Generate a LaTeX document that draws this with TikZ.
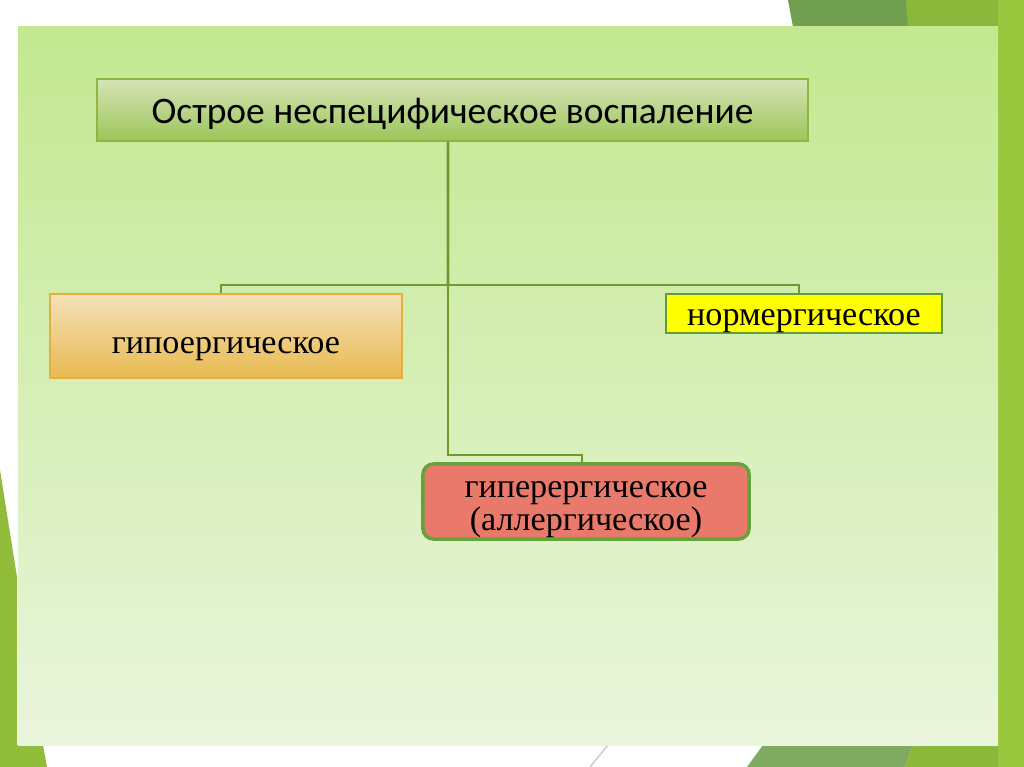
\documentclass[tikz,border=0pt]{standalone}
\usepackage{fontspec}
\setmainfont{Liberation Serif}
\newfontfamily\titlefont{Carlito}
\usetikzlibrary{positioning,calc}

\definecolor{panelTop}{HTML}{C3E890}
\definecolor{panelBot}{HTML}{E9F5DC}
\definecolor{bandGreen}{HTML}{98C63C}
\definecolor{darkGreen}{HTML}{70A04F}
\definecolor{oliveGreen}{HTML}{8BB83A}
\definecolor{lineGreen}{HTML}{6E9A2E}
\definecolor{titleTop}{HTML}{D6E4B6}
\definecolor{titleBot}{HTML}{9CC55A}
\definecolor{titleEdge}{HTML}{8DB83E}
\definecolor{hypoTop}{HTML}{F4E0BA}
\definecolor{hypoBot}{HTML}{E8BA50}
\definecolor{hypoEdge}{HTML}{E6AE3E}
\definecolor{normFill}{HTML}{FFFF00}
\definecolor{normEdge}{HTML}{5E9E3A}
\definecolor{hyperFill}{HTML}{E97A6B}
\definecolor{hyperEdge}{HTML}{66A23A}

\begin{document}
\begin{tikzpicture}[x=0.01cm, y=-0.01cm]
        \tikzstyle{conn}=[draw=lineGreen, line width=0.75pt]
        \tikzstyle{box}=[rectangle, inner sep=0pt, text depth=0pt,
                         font=\fontsize{9.7}{9.4}\selectfont]
        % page and slide frame
        \fill[white] (0,0) rectangle (1024,767);
        \useasboundingbox (0,0) rectangle (1024,767);
        \fill[darkGreen] (788,0) -- (1024,0) -- (1024,27) -- (793,27) -- cycle;
        \fill[oliveGreen] (906,0) -- (1024,0) -- (1024,27) -- (908,27) -- cycle;
        \fill[bandGreen] (998,0) -- (1024,0) -- (1024,767) -- (998,767) -- cycle;
        \fill[bandGreen!95!black] (0,470) -- (17,577) -- (17,745) -- (43,745) -- (47,767) -- (0,767) -- cycle;
        \fill[darkGreen!90!white] (763,745) -- (913,745) -- (905,767) -- (747,767) -- cycle;
        \fill[oliveGreen] (913,745) -- (998,745) -- (998,767) -- (905,767) -- cycle;
        \draw[gray!40] (590,767) -- (608,745);
        \shade[top color=panelTop, bottom color=panelBot] (18,27) rectangle (998,745);
        % boxes
        \node[box, minimum width=7.11cm, minimum height=0.62cm, top color=titleTop, bottom color=titleBot,
              draw=titleEdge, line width=0.6pt, text height=7.6pt, font=\titlefont\fontsize{10.65}{12}\selectfont]
              (title) at (452.5,110) {Острое неспецифическое воспаление};
        \node[box, minimum width=3.52cm, minimum height=0.84cm, top color=hypoTop, bottom color=hypoBot,
              draw=hypoEdge, line width=0.6pt, text height=10pt] (hypo) at (226,336) {гипоергическое};
        \node[box, minimum width=2.76cm, minimum height=0.39cm, fill=normFill,
              draw=normEdge, line width=0.6pt, text height=6.7pt] (norm) at (804,313.5) {нормергическое};
        \node[box, minimum width=3.26cm, minimum height=0.75cm, fill=hyperFill, rounded corners=3pt,
              draw=hyperEdge, line width=1pt, align=center, text height=16.7pt] (hyper) at (586,501.5)
              {гиперергическое\\(аллергическое)};
        % connectors
        \coordinate (hub) at (448,285);
        \coordinate (elbow) at (448,455);
        \draw[conn] ([xshift=-0.045cm]title.south) -- (hub);
        \draw[conn] (hub) -| ([xshift=-0.05cm]hypo.north);
        \draw[conn] (hub) -| ([xshift=-0.05cm]norm.north);
        \draw[conn] (hub) -- (elbow) -| ([xshift=-0.04cm]hyper.north);
\end{tikzpicture}
\end{document}
